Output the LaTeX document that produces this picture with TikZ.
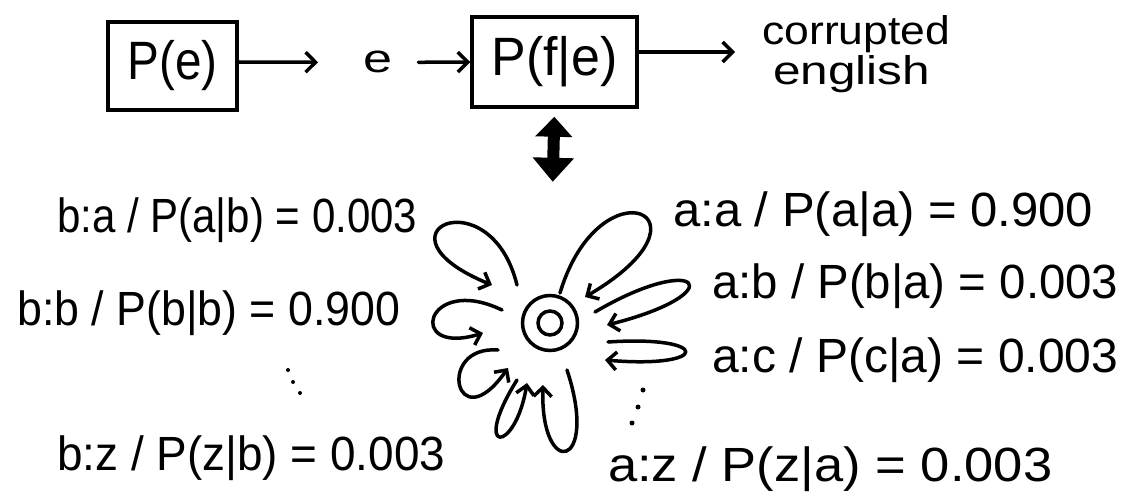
\documentclass[tikz,border=0pt]{standalone}
\usepackage{fontspec}
\setmainfont{Liberation Sans}
\usetikzlibrary{arrows.meta,calc}
\begin{document}
\begin{tikzpicture}[x=1pt,y=-1pt,
  ink/.style={line width=3.5pt, line cap=round, line join=round},
  arr/.style={ink, -{Straight Barb[length=10pt,width=20pt]}},
  loopy/.style={ink, -{Straight Barb[length=9pt,width=18pt]}},
  box/.style={draw, line width=3.5pt, inner sep=0pt, font=\fontsize{54}{56}\selectfont},
  lab/.style={inner sep=0pt, anchor=base west, font=\fontsize{48}{50}\selectfont},
  small/.style={inner sep=0pt, anchor=base west, font=\fontsize{40}{42}\selectfont},
  dot/.style={fill=black},
  ]
\useasboundingbox (0,0) rectangle (1123,492);

% top chain
\node[box, minimum width=129pt, minimum height=88pt] (pe) at (172.5,66) {\resizebox{90pt}{\height}{P(e)}};
\node[small] (e) at (363,73) {\resizebox{29pt}{\height}{e}};
\node[box, minimum width=165pt, minimum height=90pt] (pfe) at (554.5,62) {\resizebox{126pt}{\height}{P(f|e)}};
\node[small] (c1) at (762,45) {\resizebox{188pt}{\height}{corrupted}};
\node[small] (c2) at (773,85) {\resizebox{157pt}{\height}{english}};

\draw[arr, shorten >=45pt] ([yshift=4pt]pe.east) -- (e.west);
\draw[arr, shorten <=26pt] (e.east) -- (pfe.west);
\draw[arr, shorten >=27pt] ([yshift=10pt]pfe.east) -- ([yshift=10pt]pfe.east -| c1.west);

% state
\node[draw, circle, line width=3.5pt, minimum size=55pt, inner sep=0pt] (q) at (550,323) {};
\node[draw, circle, line width=3.5pt, minimum size=24pt, inner sep=0pt] (qi) at (q) {};

\draw[line width=12pt, {Triangle[length=20pt,width=36pt]}-{Triangle[length=24pt,width=40pt]},
      shorten <=8pt, shorten >=112pt] (pfe.south) -- (q.north);

% loops, left side
\draw[loopy] ($(q)+(-33,-38)$) .. controls ($(q)+(-60,-148)$) and ($(q)+(-185,-90)$) .. ($(q)+(-58,-38)$);
\draw[loopy] ($(q)+(-48,-13)$) .. controls ($(q)+(-125,-50)$) and ($(q)+(-145,34)$) .. ($(q)+(-67,10)$);
\draw[loopy] ($(q)+(-52,27)$) .. controls ($(q)+(-115,22)$) and ($(q)+(-94,119)$) .. ($(q)+(-42,45)$);
\draw[loopy] ($(q)+(-33,57)$) .. controls ($(q)+(-80,132)$) and ($(q)+(-35,132)$) .. ($(q)+(-23,60)$);
\draw[loopy] ($(q)+(17,47)$) .. controls ($(q)+(50,147)$) and ($(q)+(-10,157)$) .. ($(q)+(-7,62)$);
% loops, right side
\draw[loopy] ($(q)+(10,-30)$) .. controls ($(q)+(50,-163)$) and ($(q)+(175,-108)$) .. ($(q)+(35,-26)$);
\draw[loopy] ($(q)+(45,-11)$) .. controls ($(q)+(150,-73)$) and ($(q)+(184,-30)$) .. ($(q)+(57,2)$);
\draw[loopy] ($(q)+(58,19)$) .. controls ($(q)+(162,12)$) and ($(q)+(161,46)$) .. ($(q)+(55,37)$);

% ellipsis dots
\fill[dot] (643,390) circle (2.5pt);
\fill[dot] (638,407) circle (2.5pt);
\fill[dot] (632,423) circle (2.5pt);
\fill[dot] (288,370) circle (2pt);
\fill[dot] (293,382) circle (2pt);
\fill[dot] (300,393) circle (2pt);

% labels
\node[lab] (l1) at (57,232) {\resizebox{360pt}{\height}{b:a / P(a|b) = 0.003}};
\node[lab] (l2) at (17,325) {\resizebox{383pt}{\height}{b:b / P(b|b) = 0.900}};
\node[lab] (l3) at (57,470) {\resizebox{388pt}{\height}{b:z / P(z|b) = 0.003}};
\node[lab] (r1) at (673,226) {\resizebox{420pt}{\height}{a:a / P(a|a) = 0.900}};
\node[lab] (r2) at (712,298) {\resizebox{406pt}{\height}{a:b / P(b|a) = 0.003}};
\node[lab] (r3) at (712,372) {\resizebox{406pt}{\height}{a:c / P(c|a) = 0.003}};
\node[lab] (r4) at (608,481) {\resizebox{444pt}{\height}{a:z / P(z|a) = 0.003}};
\end{tikzpicture}
\end{document}
